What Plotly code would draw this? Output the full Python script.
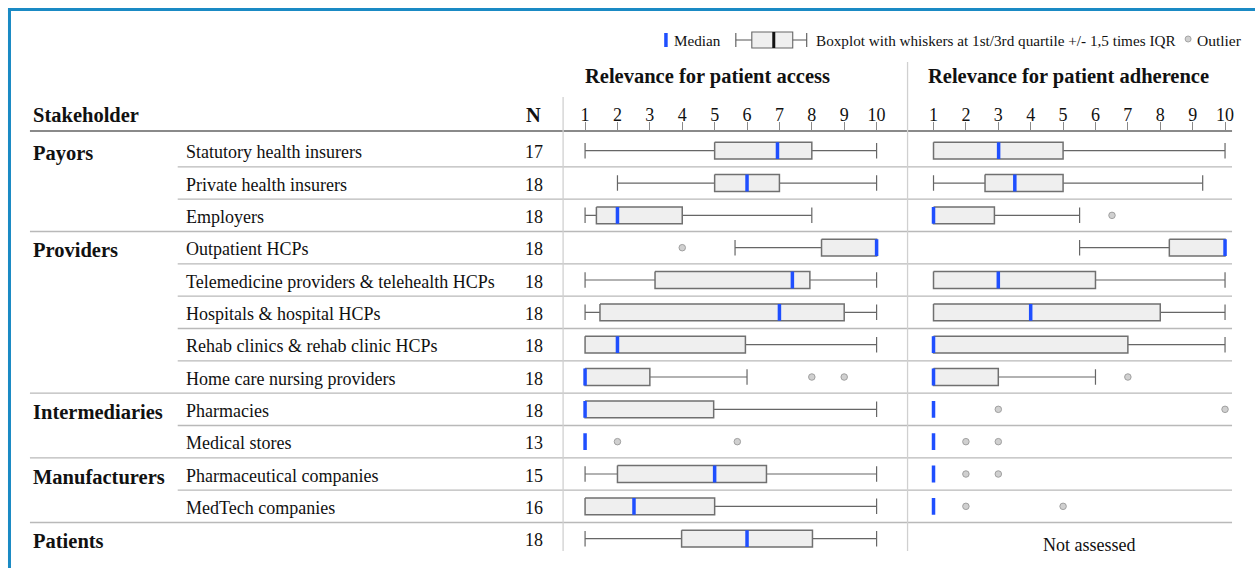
import plotly.graph_objects as go

W, H = 1257, 568

# ---------------- data ----------------
groups = ["Payors", "Providers", "Intermediaries", "Manufacturers", "Patients"]
group_first_row = [0, 3, 8, 10, 12]
stakeholders = ["Statutory health insurers", "Private health insurers", "Employers",
                "Outpatient HCPs", "Telemedicine providers & telehealth HCPs",
                "Hospitals & hospital HCPs", "Rehab clinics & rehab clinic HCPs",
                "Home care nursing providers", "Pharmacies", "Medical stores",
                "Pharmaceutical companies", "MedTech companies", ""]
n_values = [17, 18, 18, 18, 18, 18, 18, 18, 18, 13, 15, 16, 18]
tick_values = [1, 2, 3, 4, 5, 6, 7, 8, 9, 10]

# Relevance for patient access
access_low = [1, 2, 1, 5.63, 1, 1, 1, 1, 1, 1, 1, 1, 1]
access_q1 = [5, 5, 1.35, 8.3, 3.16, 1.46, 1, 1, 1, 1, 2, 1, 3.98]
access_med = [6.94, 6, 2, 10, 7.4, 7.0, 2, 1, 1, 1, 5, 2.51, 6]
access_q3 = [8, 7, 4, 10, 7.94, 9.0, 5.95, 3, 4.97, 1, 6.6, 5, 8.02]
access_high = [10, 10, 8, 10, 10, 10, 10, 6, 10, 1, 10, 10, 10]
access_out = [[], [], [], [4], [], [], [], [8, 9], [], [2, 5.7], [], [], []]

# Relevance for patient adherence (Patients: not assessed)
adh_low = [1, 1, 1, 5.51, 1, 1, 1, 1, 1, 1, 1, 1, None]
adh_q1 = [1, 2.59, 1, 8.28, 1, 1, 1, 1, 1, 1, 1, 1, None]
adh_med = [3.01, 3.51, 1, 10, 3, 4, 1, 1, 1, 1, 1, 1, None]
adh_q3 = [5, 5, 2.88, 10, 6, 8, 7, 3, 1, 1, 1, 1, None]
adh_high = [10, 9.31, 5.51, 10, 10, 10, 10, 6, 1, 1, 1, 1, None]
adh_out = [[], [], [6.51], [], [], [], [], [7], [3, 10], [2, 3], [2, 3], [2, 5], []]

# ---------------- styling ----------------
FONT = "Liberation Serif"
BOX_FILL = "#efefef"
BOX_LINE = "#707070"
MED_COL = "#1f4fff"
GRID = "#b9b9b9"
FRAME = "#1a8ac4"
HB = 0.26   # box half-height (row units)
HC = 0.24   # cap half-height


def xp(px):
    return px / W


def yp(px):
    return 1 - px / H


fig = go.Figure()


def add_panel(low, q1, med, q3, high, outs, xa):
    wx, wy, cx, cy, bx, by, mx, my, ox, oy = [], [], [], [], [], [], [], [], [], []
    for i in range(len(med)):
        if med[i] is None:
            continue
        if low[i] < q1[i]:
            wx += [low[i], q1[i], None]
            wy += [i, i, None]
            cx += [low[i], low[i], None]
            cy += [i - HC, i + HC, None]
        if high[i] > q3[i]:
            wx += [q3[i], high[i], None]
            wy += [i, i, None]
            cx += [high[i], high[i], None]
            cy += [i - HC, i + HC, None]
        if q3[i] > q1[i]:
            bx += [q1[i], q3[i], q3[i], q1[i], q1[i], None]
            by += [i - HB, i - HB, i + HB, i + HB, i - HB, None]
        mx += [med[i], med[i], None]
        my += [i - HB, i + HB, None]
        for o in outs[i]:
            ox.append(o)
            oy.append(i)
    fig.add_trace(go.Scatter(x=wx, y=wy, mode="lines", xaxis=xa, yaxis="y",
                             line=dict(color="#666666", width=1.2), hoverinfo="skip"))
    fig.add_trace(go.Scatter(x=cx, y=cy, mode="lines", xaxis=xa, yaxis="y",
                             line=dict(color="#666666", width=1.2), hoverinfo="skip"))
    fig.add_trace(go.Scatter(x=bx, y=by, mode="lines", fill="toself", fillcolor=BOX_FILL,
                             xaxis=xa, yaxis="y", line=dict(color=BOX_LINE, width=1.5),
                             hoverinfo="skip"))
    fig.add_trace(go.Scatter(x=mx, y=my, mode="lines", xaxis=xa, yaxis="y",
                             line=dict(color=MED_COL, width=3.5), hoverinfo="skip"))
    fig.add_trace(go.Scatter(x=ox, y=oy, mode="markers", xaxis=xa, yaxis="y",
                             marker=dict(size=6.5, color="#d0d0d0",
                                         line=dict(color="#a0a0a0", width=1)),
                             hoverinfo="skip"))


add_panel(access_low, access_q1, access_med, access_q3, access_high, access_out, "x")
add_panel(adh_low, adh_q1, adh_med, adh_q3, adh_high, adh_out, "x2")

shapes = []
annotations = []

# row separator lines
group_last_rows = [g - 1 for g in group_first_row[1:]]
for i in range(len(stakeholders) - 1):
    x0 = 30 if i in group_last_rows else 178
    shapes.append(dict(type="line", xref="paper", yref="y", x0=xp(x0), x1=xp(1234),
                       y0=i + 0.5, y1=i + 0.5, line=dict(color=GRID, width=1.3)))

# header line
shapes.append(dict(type="line", xref="paper", yref="paper", x0=xp(30), x1=xp(1234),
                   y0=yp(131), y1=yp(131), line=dict(color="#8a8a8a", width=2)))
# vertical lines
shapes.append(dict(type="line", xref="paper", yref="paper", x0=xp(564), x1=xp(564),
                   y0=yp(97), y1=yp(551), line=dict(color="#d0d0d0", width=1.3)))
shapes.append(dict(type="line", xref="paper", yref="paper", x0=xp(909), x1=xp(909),
                   y0=yp(62), y1=yp(551), line=dict(color="#d0d0d0", width=1.3)))
# frame
shapes.append(dict(type="line", xref="paper", yref="paper", x0=xp(8), x1=xp(1257),
                   y0=yp(9.5), y1=yp(9.5), line=dict(color=FRAME, width=3)))
shapes.append(dict(type="line", xref="paper", yref="paper", x0=xp(9.5), x1=xp(9.5),
                   y0=yp(8), y1=yp(568), line=dict(color=FRAME, width=3)))

# legend glyphs
shapes.append(dict(type="line", xref="paper", yref="paper", x0=xp(667), x1=xp(667),
                   y0=yp(33), y1=yp(47), line=dict(color=MED_COL, width=3.5)))
shapes.append(dict(type="line", xref="paper", yref="paper", x0=xp(737), x1=xp(808),
                   y0=yp(40), y1=yp(40), line=dict(color="#555", width=1.1)))
shapes.append(dict(type="line", xref="paper", yref="paper", x0=xp(737), x1=xp(737),
                   y0=yp(33), y1=yp(47), line=dict(color="#555", width=1.1)))
shapes.append(dict(type="line", xref="paper", yref="paper", x0=xp(808), x1=xp(808),
                   y0=yp(33), y1=yp(47), line=dict(color="#555", width=1.1)))
shapes.append(dict(type="rect", xref="paper", yref="paper", x0=xp(753), x1=xp(794),
                   y0=yp(32), y1=yp(48), fillcolor=BOX_FILL, line=dict(color="#666", width=1.1)))
shapes.append(dict(type="line", xref="paper", yref="paper", x0=xp(775), x1=xp(775),
                   y0=yp(32), y1=yp(48), line=dict(color="#111", width=3)))
shapes.append(dict(type="circle", xref="paper", yref="paper", x0=xp(1187), x1=xp(1193),
                   y0=yp(36), y1=yp(42), fillcolor="#d0d0d0", line=dict(color="#a5a5a5", width=1)))


def text(x, y, s, size=18, xanchor="left", yref="paper", bold=False, color="#111"):
    annotations.append(dict(x=x, y=y, xref="paper", yref=yref, text=("<b>%s</b>" % s) if bold else s,
                            showarrow=False, xanchor=xanchor, yanchor="middle",
                            borderpad=0, borderwidth=0,
                            font=dict(family=FONT, size=size, color=color)))


text(xp(675), yp(40), "Median", size=15.2)
text(xp(817), yp(40), "Boxplot with whiskers at 1st/3rd quartile +/- 1,5 times IQR", size=15.2)
text(xp(1199), yp(40), "Outlier", size=15.5)

text(xp(709), yp(76), "Relevance for patient access", size=20.5, xanchor="center", bold=True)
text(xp(1070), yp(76), "Relevance for patient adherence", size=20.5, xanchor="center", bold=True)
text(xp(33), yp(115), "Stakeholder", size=20.5, bold=True)
text(xp(534), yp(115), "N", size=20.5, xanchor="center", bold=True)

for g, r in zip(groups, group_first_row):
    text(xp(33), r + 0.08, g, size=20.5, yref="y", bold=True)
for i, s in enumerate(stakeholders):
    if s:
        text(xp(186), i + 0.05, s, size=18, yref="y")
    text(xp(535), i + 0.05, str(n_values[i]), size=18, xanchor="center", yref="y")

text(xp(1091), 12.2, "Not assessed", size=18, xanchor="center", yref="y")

row_px0 = 150.7
row_step = 32.33

axis_common = dict(tickvals=tick_values, ticktext=[str(t) for t in tick_values],
                   ticks="outside", ticklen=9, tickcolor="#8a8a8a", tickwidth=1.2,
                   showline=False, showgrid=False, zeroline=False, side="top",
                   anchor="free", position=yp(131), fixedrange=True,
                   ticklabelstandoff=-6,
                   tickfont=dict(family=FONT, size=18, color="#111"))

fig.update_layout(
    width=W, height=H, margin=dict(l=0, r=0, t=0, b=0),
    paper_bgcolor="white", plot_bgcolor="rgba(0,0,0,0)",
    showlegend=False,
    xaxis=dict(domain=[xp(564), xp(909)], range=[1 - (586 - 564) / 32.44, 10 + (909 - 878) / 32.44],
               **axis_common),
    xaxis2=dict(domain=[xp(909), xp(1234)], range=[1 - (935 - 909) / 32.44, 10 + (1234 - 1227) / 32.44],
                **axis_common),
    yaxis=dict(domain=[0, 1], range=[(H - row_px0) / row_step, -row_px0 / row_step],
               visible=False, fixedrange=True),
    shapes=shapes, annotations=annotations,
)

fig.write_html("out.html", config={"displayModeBar": False},
               post_script="document.body.style.margin='0';")
